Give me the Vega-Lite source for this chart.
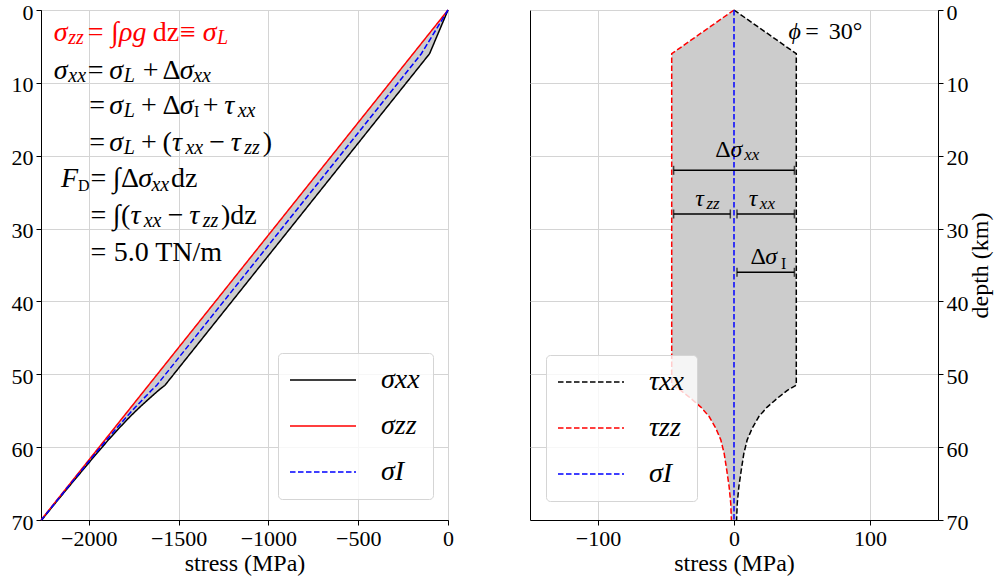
{
"$schema":"https://vega.github.io/schema/vega-lite/v6.json",
"autosize":{"type":"pad"},
"padding":{"left":10,"top":0,"right":5,"bottom":5},
"background":"white",
"config":{
  "font":"Liberation Serif, DejaVu Serif, serif",
  "view":{"stroke":"black","strokeWidth":1},
  "axis":{"domainColor":"black","domainWidth":1,"tickColor":"black","tickSize":5,"tickWidth":1,"labelFont":"Liberation Serif, DejaVu Serif, serif","labelFontSize":22,"labelColor":"black","labelPadding":3,"labelFlush":false,"labelOverlap":false,"titleFont":"Liberation Serif, DejaVu Serif, serif","titleFontSize":24,"titleFontWeight":"normal","titleColor":"black","titlePadding":2,"gridColor":"#d4d4d4","gridWidth":1,"zindex":1},
  "legend":{"zindex":2}
},
"datasets":{
  "left":[
    {"depth":0,"σzz":0,"σxx":0,"σI":0},
    {"depth":6,"σzz":-194.2,"σxx":-102.6,"σI":-148.4},
    {"depth":51.5,"σzz":-1667.2,"σxx":-1575.6,"σI":-1621.4},
    {"depth":52.2,"σzz":-1689.9,"σxx":-1611.5,"σI":-1650.7},
    {"depth":53.3,"σzz":-1725.5,"σxx":-1661.9,"σI":-1693.7},
    {"depth":54.5,"σzz":-1764.3,"σxx":-1715.5,"σI":-1739.9},
    {"depth":55.8,"σzz":-1806.4,"σxx":-1769.8,"σI":-1788.1},
    {"depth":57.4,"σzz":-1858.2,"σxx":-1831.4,"σI":-1844.8},
    {"depth":59.0,"σzz":-1910.0,"σxx":-1890.6,"σI":-1900.3},
    {"depth":60.9,"σzz":-1971.5,"σxx":-1957.1,"σI":-1964.3},
    {"depth":63.2,"σzz":-2046.0,"σxx":-2035.4,"σI":-2040.7},
    {"depth":65.4,"σzz":-2117.2,"σxx":-2110.0,"σI":-2113.6},
    {"depth":67.7,"σzz":-2191.7,"σxx":-2186.9,"σI":-2189.3},
    {"depth":70,"σzz":-2266.1,"σxx":-2262.3,"σI":-2264.2}
  ],
  "right":[
    {"depth":0,"τxx":0,"τzz":0,"σI":0},
    {"depth":6,"τxx":45.8,"τzz":-45.8,"σI":0},
    {"depth":51.5,"τxx":45.8,"τzz":-45.8,"σI":0},
    {"depth":52.2,"τxx":39.2,"τzz":-39.2,"σI":0},
    {"depth":53.3,"τxx":31.8,"τzz":-31.8,"σI":0},
    {"depth":54.5,"τxx":24.4,"τzz":-24.4,"σI":0},
    {"depth":55.8,"τxx":18.3,"τzz":-18.3,"σI":0},
    {"depth":57.4,"τxx":13.4,"τzz":-13.4,"σI":0},
    {"depth":59.0,"τxx":9.7,"τzz":-9.7,"σI":0},
    {"depth":60.9,"τxx":7.2,"τzz":-7.2,"σI":0},
    {"depth":63.2,"τxx":5.3,"τzz":-5.3,"σI":0},
    {"depth":65.4,"τxx":3.6,"τzz":-3.6,"σI":0},
    {"depth":67.7,"τxx":2.4,"τzz":-2.4,"σI":0},
    {"depth":70,"τxx":1.9,"τzz":-1.9,"σI":0}
  ],
  "formula":[
    {"t":"σ","x":-2195,"y":4.24,"s":"it","eq":"σzz"},
    {"t":"zz","x":-2114,"y":4.69,"s":"sit","eq":"σzz"},
    {"t":"=","x":-2006,"y":4.24,"s":"up","eq":"σzz"},
    {"t":"∫","x":-1876,"y":4.24,"s":"up","eq":"σzz"},
    {"t":"ρg","x":-1832,"y":4.24,"s":"it","eq":"σzz"},
    {"t":"dz","x":-1644,"y":4.24,"s":"up","eq":"σzz"},
    {"t":"≡","x":-1492,"y":4.24,"s":"up","eq":"σzz"},
    {"t":"σ","x":-1366,"y":4.24,"s":"it","eq":"σzz"},
    {"t":"L","x":-1286,"y":4.69,"s":"sit","eq":"σzz"},

    {"t":"σ","x":-2195,"y":9.49,"s":"it","eq":"σxx"},
    {"t":"xx","x":-2114,"y":9.93,"s":"sit","eq":"σxx"},
    {"t":"=","x":-2006,"y":9.49,"s":"up","eq":"σxx"},
    {"t":"σ","x":-1886,"y":9.49,"s":"it","eq":"σxx"},
    {"t":"L","x":-1805,"y":9.93,"s":"sit","eq":"σxx"},
    {"t":"+","x":-1700,"y":9.49,"s":"up","eq":"σxx"},
    {"t":"Δ","x":-1589,"y":9.49,"s":"up","eq":"σxx"},
    {"t":"σ","x":-1493,"y":9.49,"s":"it","eq":"σxx"},
    {"t":"xx","x":-1419,"y":9.93,"s":"sit","eq":"σxx"},

    {"t":"=","x":-1997,"y":14.29,"s":"up","eq":"σxx"},
    {"t":"σ","x":-1886,"y":14.29,"s":"it","eq":"σxx"},
    {"t":"L","x":-1805,"y":14.73,"s":"sit","eq":"σxx"},
    {"t":"+","x":-1709,"y":14.29,"s":"up","eq":"σxx"},
    {"t":"Δ","x":-1589,"y":14.29,"s":"up","eq":"σxx"},
    {"t":"σ","x":-1493,"y":14.29,"s":"it","eq":"σxx"},
    {"t":"I","x":-1414,"y":14.73,"s":"sup","eq":"σxx"},
    {"t":"+","x":-1366,"y":14.29,"s":"up","eq":"σxx"},
    {"t":"τ","x":-1246,"y":14.29,"s":"it","eq":"σxx"},
    {"t":"xx","x":-1171,"y":14.73,"s":"sit","eq":"σxx"},

    {"t":"=","x":-1997,"y":19.33,"s":"up","eq":"σxx"},
    {"t":"σ","x":-1886,"y":19.33,"s":"it","eq":"σxx"},
    {"t":"L","x":-1805,"y":19.77,"s":"sit","eq":"σxx"},
    {"t":"+","x":-1709,"y":19.33,"s":"up","eq":"σxx"},
    {"t":"(","x":-1589,"y":19.33,"s":"up","eq":"σxx"},
    {"t":"τ","x":-1537,"y":19.33,"s":"it","eq":"σxx"},
    {"t":"xx","x":-1462,"y":19.77,"s":"sit","eq":"σxx"},
    {"t":"−","x":-1329,"y":19.33,"s":"up","eq":"σxx"},
    {"t":"τ","x":-1209,"y":19.33,"s":"it","eq":"σxx"},
    {"t":"zz","x":-1135,"y":19.77,"s":"sit","eq":"σxx"},
    {"t":")","x":-1032,"y":19.33,"s":"up","eq":"σxx"},

    {"t":"F","x":-2154,"y":24.36,"s":"it","eq":"FD"},
    {"t":"D","x":-2060,"y":24.8,"s":"sup","eq":"FD"},
    {"t":"=","x":-1991,"y":24.36,"s":"up","eq":"FD"},
    {"t":"∫","x":-1867,"y":24.36,"s":"up","eq":"FD"},
    {"t":"Δ","x":-1820,"y":24.36,"s":"up","eq":"FD"},
    {"t":"σ","x":-1725,"y":24.36,"s":"it","eq":"FD"},
    {"t":"xx","x":-1651,"y":24.8,"s":"sit","eq":"FD"},
    {"t":"dz","x":-1542,"y":24.36,"s":"up","eq":"FD"},

    {"t":"=","x":-1991,"y":29.38,"s":"up","eq":"FD"},
    {"t":"∫","x":-1867,"y":29.38,"s":"up","eq":"FD"},
    {"t":"(","x":-1820,"y":29.38,"s":"up","eq":"FD"},
    {"t":"τ","x":-1768,"y":29.38,"s":"it","eq":"FD"},
    {"t":"xx","x":-1694,"y":29.82,"s":"sit","eq":"FD"},
    {"t":"−","x":-1561,"y":29.38,"s":"up","eq":"FD"},
    {"t":"τ","x":-1441,"y":29.38,"s":"it","eq":"FD"},
    {"t":"zz","x":-1366,"y":29.82,"s":"sit","eq":"FD"},
    {"t":")dz","x":-1264,"y":29.38,"s":"up","eq":"FD"},

    {"t":"=","x":-1991,"y":34.42,"s":"up","eq":"FD"},
    {"t":"5.0 TN/m","x":-1861,"y":34.42,"s":"up","eq":"FD"}
  ],
  "notes":[
    {"t":"ϕ","x":40.1,"y":4.0,"s":"it"},
    {"t":"=","x":52.4,"y":4.0,"s":"up"},
    {"t":"30°","x":69.6,"y":4.0,"s":"up"},
    {"t":"Δ","x":-13.75,"y":20.15,"s":"up"},
    {"t":"σ","x":-2.5,"y":20.15,"s":"it"},
    {"t":"xx","x":7.5,"y":20.56,"s":"sit"},
    {"t":"τ","x":-28.5,"y":26.9,"s":"it"},
    {"t":"zz","x":-20.3,"y":27.35,"s":"sit"},
    {"t":"τ","x":10.8,"y":26.9,"s":"it"},
    {"t":"xx","x":19.0,"y":27.35,"s":"sit"},
    {"t":"Δ","x":12.1,"y":34.9,"s":"up"},
    {"t":"σ","x":23.0,"y":34.9,"s":"it"},
    {"t":"I","x":34.5,"y":35.5,"s":"sup"}
  ],
  "bars":[
    {"d":22,"a":-44.4,"b":44.4},
    {"d":28,"a":-44.4,"b":-2.7},
    {"d":28,"a":2.2,"b":44.4},
    {"d":36,"a":2.2,"b":44.4}
  ]
},
"bounds":"flush",
"spacing":82,
"resolve":{"scale":{"x":"independent","y":"independent","stroke":"independent","strokeDash":"independent","color":"independent"},"legend":{"stroke":"independent","strokeDash":"independent"}},
"hconcat":[
 {
  "width":407,"height":510,
  "layer":[
   {"data":{"name":"left"},"mark":{"type":"area","orient":"horizontal","color":"#cccccc"},
    "encoding":{
     "y":{"field":"depth","type":"quantitative","scale":{"domain":[0,70],"reverse":true,"nice":false,"zero":false},"axis":{"orient":"left","values":[0,10,20,30,40,50,60,70],"format":"d","grid":true,"title":null,"labelOffset":2}},
     "x":{"field":"σxx","type":"quantitative","scale":{"domain":[-2266,0],"nice":false,"zero":false},"axis":{"orient":"bottom","values":[-2000,-1500,-1000,-500,0],"format":"d","grid":true,"title":"stress (MPa)"}},
     "x2":{"field":"σzz"}
    }},
   {"data":{"name":"left"},"transform":[{"fold":["σxx","σzz","σI"],"as":["series","stress"]}],
    "mark":{"type":"line","strokeWidth":1.5},
    "encoding":{
     "y":{"field":"depth","type":"quantitative","title":null},
     "x":{"field":"stress","type":"quantitative","title":"stress (MPa)"},
     "order":{"field":"depth","type":"quantitative"},
     "stroke":{"field":"series","type":"nominal","scale":{"domain":["σxx","σzz","σI"],"range":["black","red","blue"]},
       "legend":{"orient":"none","legendX":237,"legendY":343,"title":null,"symbolType":"M-3.3,0H3.3","symbolSize":400,"symbolStrokeWidth":1.5,"symbolOffset":18,"labelOffset":44,"labelFont":"Liberation Serif, DejaVu Serif, serif","labelFontStyle":"italic","labelFontSize":28,"labelColor":"black","rowPadding":18,"padding":13,"fillColor":"rgba(255,255,255,0.8)","strokeColor":"#d5d5d5","cornerRadius":4}},
     "strokeDash":{"field":"series","type":"nominal","scale":{"domain":["σxx","σzz","σI"],"range":[[1,0],[1,0],[5.5,2.5]]},
       "legend":{"orient":"none","legendX":237,"legendY":343,"title":null,"symbolType":"M-3.3,0H3.3","symbolSize":400,"symbolStrokeWidth":1.5,"symbolOffset":18,"labelOffset":44,"labelFont":"Liberation Serif, DejaVu Serif, serif","labelFontStyle":"italic","labelFontSize":28,"labelColor":"black","rowPadding":18,"padding":13,"fillColor":"rgba(255,255,255,0.8)","strokeColor":"#d5d5d5","cornerRadius":4}}
    }},
   {"data":{"name":"formula"},"transform":[{"filter":"datum.s==='it'"}],
    "mark":{"type":"text","align":"left","baseline":"alphabetic","font":"Liberation Serif, DejaVu Serif, serif","fontStyle":"italic","fontSize":28},
    "encoding":{"x":{"field":"x","type":"quantitative","title":"stress (MPa)"},"y":{"field":"y","type":"quantitative","title":null},"text":{"field":"t"},
     "color":{"condition":{"test":"datum.eq==='σzz'","value":"red"},"value":"black"}}},
   {"data":{"name":"formula"},"transform":[{"filter":"datum.s==='up'"}],
    "mark":{"type":"text","align":"left","baseline":"alphabetic","font":"Liberation Serif, DejaVu Serif, serif","fontSize":28},
    "encoding":{"x":{"field":"x","type":"quantitative","title":"stress (MPa)"},"y":{"field":"y","type":"quantitative","title":null},"text":{"field":"t"},
     "color":{"condition":{"test":"datum.eq==='σzz'","value":"red"},"value":"black"}}},
   {"data":{"name":"formula"},"transform":[{"filter":"datum.s==='sit'"}],
    "mark":{"type":"text","align":"left","baseline":"alphabetic","font":"Liberation Serif, DejaVu Serif, serif","fontStyle":"italic","fontSize":20},
    "encoding":{"x":{"field":"x","type":"quantitative","title":"stress (MPa)"},"y":{"field":"y","type":"quantitative","title":null},"text":{"field":"t"},
     "color":{"condition":{"test":"datum.eq==='σzz'","value":"red"},"value":"black"}}},
   {"data":{"name":"formula"},"transform":[{"filter":"datum.s==='sup'"}],
    "mark":{"type":"text","align":"left","baseline":"alphabetic","font":"Liberation Serif, DejaVu Serif, serif","fontSize":16},
    "encoding":{"x":{"field":"x","type":"quantitative","title":"stress (MPa)"},"y":{"field":"y","type":"quantitative","title":null},"text":{"field":"t"},
     "color":{"condition":{"test":"datum.eq==='σzz'","value":"red"},"value":"black"}}}
  ]
 },
 {
  "width":408,"height":510,
  "layer":[
   {"data":{"name":"right"},"mark":{"type":"area","orient":"horizontal","color":"#cccccc"},
    "encoding":{
     "y":{"field":"depth","type":"quantitative","scale":{"domain":[0,70],"reverse":true,"nice":false,"zero":false},"axis":{"orient":"right","values":[0,10,20,30,40,50,60,70],"format":"d","grid":true,"title":"depth (km)","titleAngle":270,"titleBaseline":"top","titlePadding":0,"labelOffset":2}},
     "x":{"field":"τzz","type":"quantitative","scale":{"domain":[-150,150],"nice":false,"zero":false},"axis":{"orient":"bottom","values":[-100,0,100],"format":"d","grid":true,"title":"stress (MPa)"}},
     "x2":{"field":"τxx"}
    }},
   {"data":{"name":"right"},"transform":[{"fold":["τxx","τzz","σI"],"as":["series","stress"]}],
    "mark":{"type":"line","strokeWidth":1.5},
    "encoding":{
     "y":{"field":"depth","type":"quantitative","title":"depth (km)"},
     "x":{"field":"stress","type":"quantitative","title":"stress (MPa)"},
     "order":{"field":"depth","type":"quantitative"},
     "stroke":{"field":"series","type":"nominal","scale":{"domain":["τxx","τzz","σI"],"range":["black","red","blue"]},
       "legend":{"orient":"none","legendX":16,"legendY":345,"title":null,"symbolType":"M-3.3,0H3.3","symbolSize":400,"symbolStrokeWidth":1.5,"symbolOffset":18,"labelOffset":44,"labelFont":"Liberation Serif, DejaVu Serif, serif","labelFontStyle":"italic","labelFontSize":28,"labelColor":"black","rowPadding":18,"padding":13,"fillColor":"rgba(255,255,255,0.8)","strokeColor":"#d5d5d5","cornerRadius":4}},
     "strokeDash":{"field":"series","type":"nominal","scale":{"domain":["τxx","τzz","σI"],"range":[[5.5,2.5],[5.5,2.5],[5.5,2.5]]},
       "legend":{"orient":"none","legendX":16,"legendY":345,"title":null,"symbolType":"M-3.3,0H3.3","symbolSize":400,"symbolStrokeWidth":1.5,"symbolOffset":18,"labelOffset":44,"labelFont":"Liberation Serif, DejaVu Serif, serif","labelFontStyle":"italic","labelFontSize":28,"labelColor":"black","rowPadding":18,"padding":13,"fillColor":"rgba(255,255,255,0.8)","strokeColor":"#d5d5d5","cornerRadius":4}}
    }},
   {"data":{"name":"bars"},"mark":{"type":"rule","color":"black","strokeWidth":1.5},
    "encoding":{"x":{"field":"a","type":"quantitative","title":"stress (MPa)"},"x2":{"field":"b"},"y":{"field":"d","type":"quantitative","title":"depth (km)"}}},
   {"data":{"name":"bars"},"transform":[{"fold":["a","b"],"as":["k","v"]}],
    "mark":{"type":"tick","orient":"vertical","size":9,"thickness":1.5,"color":"black"},
    "encoding":{"x":{"field":"v","type":"quantitative","title":"stress (MPa)"},"y":{"field":"d","type":"quantitative","title":"depth (km)"}}},
   {"data":{"name":"notes"},"transform":[{"filter":"datum.s==='it'"}],
    "mark":{"type":"text","align":"left","baseline":"alphabetic","font":"Liberation Serif, DejaVu Serif, serif","fontStyle":"italic","fontSize":24,"color":"black"},
    "encoding":{"x":{"field":"x","type":"quantitative","title":"stress (MPa)"},"y":{"field":"y","type":"quantitative","title":"depth (km)"},"text":{"field":"t"}}},
   {"data":{"name":"notes"},"transform":[{"filter":"datum.s==='up'"}],
    "mark":{"type":"text","align":"left","baseline":"alphabetic","font":"Liberation Serif, DejaVu Serif, serif","fontSize":24,"color":"black"},
    "encoding":{"x":{"field":"x","type":"quantitative","title":"stress (MPa)"},"y":{"field":"y","type":"quantitative","title":"depth (km)"},"text":{"field":"t"}}},
   {"data":{"name":"notes"},"transform":[{"filter":"datum.s==='sit'"}],
    "mark":{"type":"text","align":"left","baseline":"alphabetic","font":"Liberation Serif, DejaVu Serif, serif","fontStyle":"italic","fontSize":17,"color":"black"},
    "encoding":{"x":{"field":"x","type":"quantitative","title":"stress (MPa)"},"y":{"field":"y","type":"quantitative","title":"depth (km)"},"text":{"field":"t"}}},
   {"data":{"name":"notes"},"transform":[{"filter":"datum.s==='sup'"}],
    "mark":{"type":"text","align":"left","baseline":"alphabetic","font":"Liberation Serif, DejaVu Serif, serif","fontSize":16,"color":"black"},
    "encoding":{"x":{"field":"x","type":"quantitative","title":"stress (MPa)"},"y":{"field":"y","type":"quantitative","title":"depth (km)"},"text":{"field":"t"}}}
  ]
 }
]
}
